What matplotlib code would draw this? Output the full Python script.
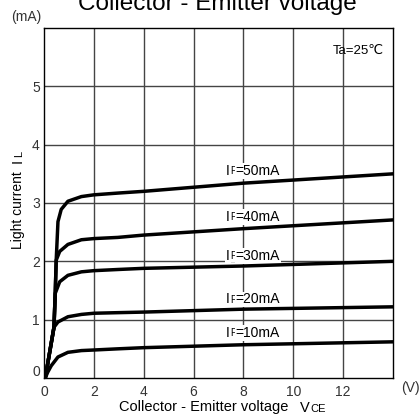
import numpy as np
import matplotlib
matplotlib.use('Agg')
from matplotlib import pyplot as plt

plt.rcParams['font.family'] = ['Liberation Sans', 'DejaVu Sans']

# кривые IL(VCE) для разных IF
vce_10 = [0.05, 0.15, 0.29, 0.56, 0.96, 1.5, 2.0, 2.96, 4.0, 8.0, 14.0]
il_10 = [0.0, 0.1, 0.21, 0.36, 0.44, 0.47, 0.48, 0.5, 0.52, 0.57, 0.62]

vce_20 = [0.05, 0.4, 0.56, 0.96, 1.5, 2.0, 2.96, 4.0, 8.0, 14.0]
il_20 = [0.0, 0.87, 0.96, 1.05, 1.09, 1.11, 1.12, 1.13, 1.18, 1.22]

vce_30 = [0.05, 0.4, 0.45, 0.63, 0.96, 1.5, 2.0, 2.96, 4.0, 8.0, 14.0]
il_30 = [0.0, 0.87, 1.45, 1.65, 1.76, 1.82, 1.84, 1.86, 1.88, 1.92, 2.0]

vce_40 = [0.05, 0.4, 0.45, 0.49, 0.63, 0.96, 1.5, 2.0, 2.96, 4.0, 8.0, 14.0]
il_40 = [0.0, 0.87, 1.45, 2.02, 2.17, 2.29, 2.37, 2.39, 2.41, 2.45, 2.56, 2.71]

vce_50 = [0.05, 0.4, 0.45, 0.49, 0.56, 0.69, 0.96, 1.5, 2.0, 2.96, 4.0, 8.0, 14.0]
il_50 = [0.0, 0.87, 1.45, 2.02, 2.68, 2.89, 3.03, 3.11, 3.14, 3.17, 3.2, 3.34, 3.5]

curves = [(vce_10, il_10), (vce_20, il_20), (vce_30, il_30), (vce_40, il_40), (vce_50, il_50)]
labels = ['10mA', '20mA', '30mA', '40mA', '50mA']
label_y = [0.77, 1.35, 2.09, 2.76, 3.55]

x_ticks = [0, 2, 4, 6, 8, 10, 12]
y_ticks = [1, 2, 3, 4, 5]

fig = plt.figure(figsize=(4.2, 4.18), dpi=100)
ax = fig.add_axes([44 / 420, 1 - 378 / 418, 349 / 420, 350 / 418])
ax.set_xlim(0, 14)
ax.set_ylim(0, 6)

for gx in range(2, 14, 2):
    ax.axvline(gx, color='#444444', lw=1, zorder=1)
for gy in range(1, 6):
    ax.axhline(gy, color='#444444', lw=1, zorder=1)

for v, i in curves:
    ax.plot(v, i, color='black', lw=2.5, solid_capstyle='round', zorder=4)

for lab, ly in zip(labels, label_y):
    t1 = ax.text(7.3, ly, 'I', fontsize=10, va='center', ha='left', zorder=3,
                 bbox=dict(facecolor='white', edgecolor='none', pad=0.5))
    t2 = ax.annotate('F', xy=(1, 0.12), xycoords=t1, fontsize=7, va='bottom', zorder=3,
                     bbox=dict(facecolor='white', edgecolor='none', pad=0.5))
    ax.annotate('=' + lab, xy=(1, 0), xycoords=(t2, t1), fontsize=10, va='bottom', zorder=3,
                bbox=dict(facecolor='white', edgecolor='none', pad=0.5))

ax.text(13.65, 5.6, 'Ta=25℃', fontsize=9.5, ha='right', va='center')

ax.set_xticks(x_ticks)
ax.set_yticks(y_ticks)
ax.tick_params(length=0, labelsize=10, pad=5, colors='#333333')
ax.tick_params(axis='y', pad=3)
for s in ax.spines.values():
    s.set_linewidth(1)
    s.set_color('black')

fig.text(36 / 420, 1 - 372 / 418, '0', fontsize=10, ha='center', va='center', color='#333333')
fig.text(217 / 420, 1 - 10 / 418, 'Collector - Emitter voltage', fontsize=17.5, ha='center', va='baseline')
fig.text(26 / 420, 1 - 17 / 418, '(mA)', fontsize=10, ha='center', va='center', color='#333333')
fig.text(410 / 420, 1 - 388 / 418, '(V)', fontsize=10, ha='center', va='center', color='#333333')

fig.text(204 / 420, 1 - 407 / 418, 'Collector - Emitter voltage', fontsize=10.5, ha='center', va='center')
fig.text(300 / 420, 1 - 408 / 418, 'V', fontsize=10.5, ha='left', va='center')
fig.text(310 / 420, 1 - 409 / 418, 'CE', fontsize=8, ha='left', va='center')

fig.text(18 / 420, 1 - 210 / 418, 'Light current', fontsize=10, rotation=90, ha='center', va='center')
fig.text(18 / 420, 1 - 161 / 418, 'I', fontsize=10.5, rotation=90, ha='center', va='center')
fig.text(19 / 420, 1 - 154 / 418, 'L', fontsize=8, rotation=90, ha='center', va='center')

fig.savefig('out.png', dpi=100)
